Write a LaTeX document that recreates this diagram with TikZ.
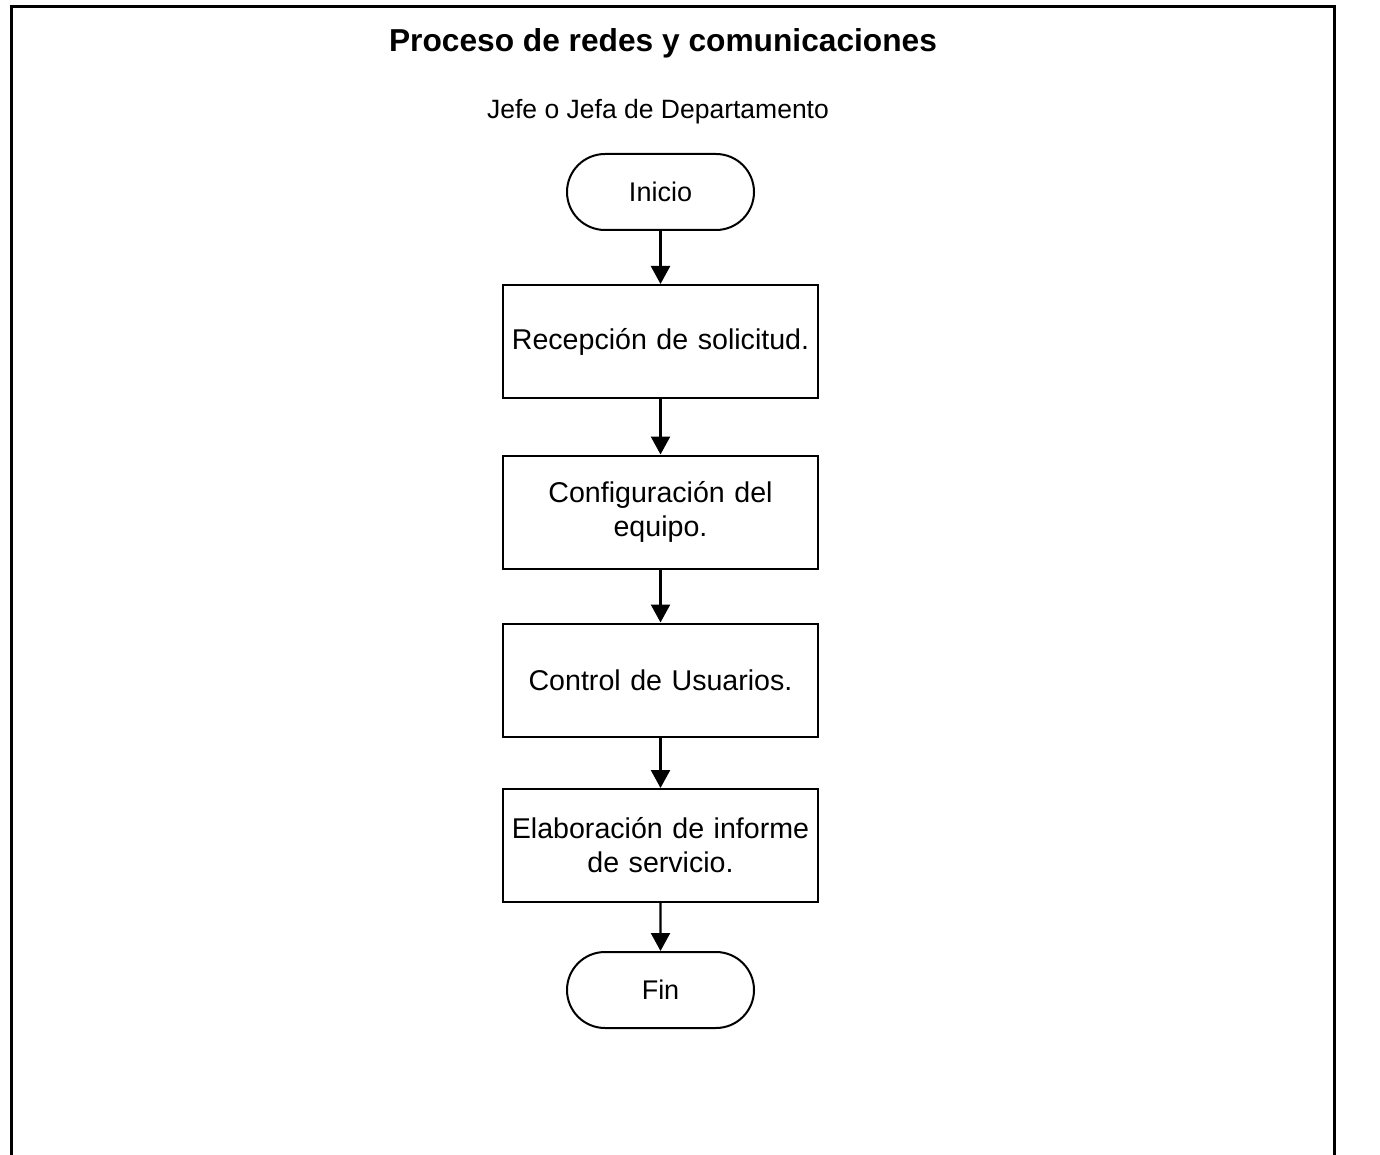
\documentclass[tikz,border=0pt]{standalone}
\usepackage{fontspec}
\setmainfont{Liberation Sans}
\usetikzlibrary{arrows.meta,shapes.misc}
\begin{document}
\begin{tikzpicture}[x=1pt,y=-1pt,
  terminal/.style={draw, line width=2pt, rounded rectangle, minimum width=187pt, minimum height=76pt, inner sep=0pt, font=\fontsize{27}{33}\selectfont},
  procbox/.style={draw, line width=2pt, rectangle, minimum width=315pt, minimum height=113pt, inner sep=0pt, text width=310pt, align=center, font=\fontsize{28.6}{34}\selectfont},
  flow/.style={line width=2.4pt, -{Triangle[width=19pt,length=18pt]}}]
\useasboundingbox (0,0) rectangle (1380,1155);
\draw[line width=3pt] (11,1165) -- (11,7) -- (1334,7) -- (1334,1165);
\node[font=\bfseries\fontsize{31.7}{36}\selectfont] (title) at (663,43) {Proceso de redes y comunicaciones};
\node[font=\fontsize{26.5}{30}\selectfont] (role) at (658,112) {Jefe o Jefa de Departamento};
\node[terminal] (inicio) at (660.5,192) {Inicio};
\node[procbox] (b1) at (660.5,341.5) {Recepción de solicitud.};
\node[procbox] (b2) at (660.5,512) {Configuración del\\equipo.};
\node[procbox] (b3) at (660.5,680) {Control de Usuarios.};
\node[procbox] (b4) at (660.5,845.5) {Elaboración de informe\\de servicio.};
\node[terminal] (fin) at (660.5,990) {Fin};
\draw[flow] (inicio) -- (b1);
\draw[flow] (b1) -- (b2);
\draw[flow] (b2) -- (b3);
\draw[flow] (b3) -- (b4);
\draw[flow] (b4) -- (fin);
\end{tikzpicture}
\end{document}
